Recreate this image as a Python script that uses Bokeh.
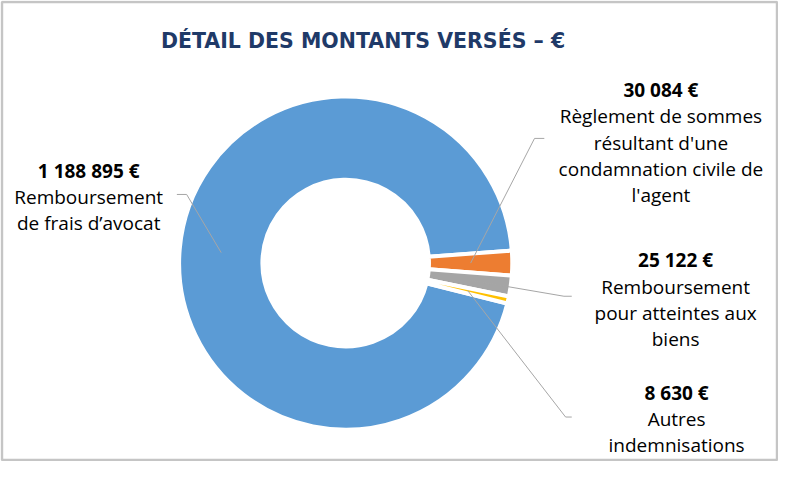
import math
from bokeh.plotting import figure
from bokeh.models import Range1d, Label, BoxAnnotation
from bokeh.embed import file_html
from bokeh.resources import INLINE

# ---------------- data ----------------
categories = [
    "Remboursement\nde frais d’avocat",
    "Règlement de sommes\nrésultant d'une\ncondamnation civile de\nl'agent",
    "Remboursement\npour atteintes aux\nbiens",
    "Autres\nindemnisations",
]
values = [1188895, 30084, 25122, 8630]
colors = ["#5B9BD5", "#ED7D31", "#A5A5A5", "#FFC000"]
title_text = "DÉTAIL DES MONTANTS VERSÉS – €"

# ---------------- layout (design coordinates = 794x477 canvas) ----------------
DES_W, DES_H = 794, 477
W, H = 778, 461


def wy(y):
    return DES_H - y


CX, CY = 352.3, wy(271.7)
R_OUT, R_IN = 170, 85
GAP_W = 4
LEADER_R = 127.5
FONT = "Open Sans"
TITLE_FONT = "DejaVu Sans"

# label anchor (center x, first line middle y) and leader elbows
label_pos = [(90, 176), (674, 93), (689, 269), (690, 406)]
line_step = 27
elbows = [((190, 200.7), (180, 200.7)),
          ((545, 142.7), (555, 142.7)),
          ((575, 306), (583, 306)),
          ((576.7, 431), (583, 431))]

p = figure(width=W, height=H, output_backend="svg", toolbar_location=None,
           x_range=Range1d(0, DES_W), y_range=Range1d(0, DES_H),
           min_border=0)
p.axis.visible = False
p.grid.visible = False
p.outline_line_color = None
p.background_fill_color = "white"
p.border_fill_color = "white"

p.add_layout(BoxAnnotation(left=1.5, right=DES_W - 1.5, bottom=1.5, top=DES_H - 1.5,
                           fill_alpha=0, line_color="#3F3F3F", line_width=2.5))

total = sum(values)
sweeps = [v / total * 2 * math.pi for v in values]
# rotate so that the second slice is centred on 3 o'clock (clockwise order)
a0 = sweeps[0] + sweeps[1] / 2
starts, ends, mids = [], [], []
a = a0
for s in sweeps:
    starts.append(a)
    ends.append(a - s)
    mids.append(a - s / 2)
    a -= s

p.annular_wedge(x=[CX] * len(values), y=[CY] * len(values),
                inner_radius=R_IN, outer_radius=R_OUT,
                start_angle=starts, end_angle=ends, direction="clock",
                fill_color=colors, line_color="white", line_width=GAP_W)

# leader lines
for m, (e1, e2) in zip(mids, elbows):
    sx = CX + LEADER_R * math.cos(m)
    sy = CY + LEADER_R * math.sin(m)
    p.line([sx, e1[0], e2[0]], [sy, wy(e1[1]), wy(e2[1])],
           line_color="#A6A6A6", line_width=1)

# labels
for v, cat, (lx, ly) in zip(values, categories, label_pos):
    val_txt = f"{v:,}".replace(",", " ") + " €"
    p.add_layout(Label(x=lx, y=wy(ly), text=val_txt, text_align="center",
                       text_baseline="middle", text_font=FONT,
                       text_font_style="bold", text_font_size="19px",
                       text_color="#000000"))
    for i, ln in enumerate(cat.split("\n")):
        p.add_layout(Label(x=lx, y=wy(ly + line_step * (i + 1)), text=ln,
                           text_align="center", text_baseline="middle",
                           text_font=FONT, text_font_size="19px",
                           text_color="#000000"))

p.add_layout(Label(x=370, y=wy(42), text=title_text, text_align="center",
                   text_baseline="middle", text_font=TITLE_FONT,
                   text_font_style="bold", text_font_size="20.5px",
                   text_color="#1F3A68"))

open("out.html", "w").write(file_html(p, INLINE))
